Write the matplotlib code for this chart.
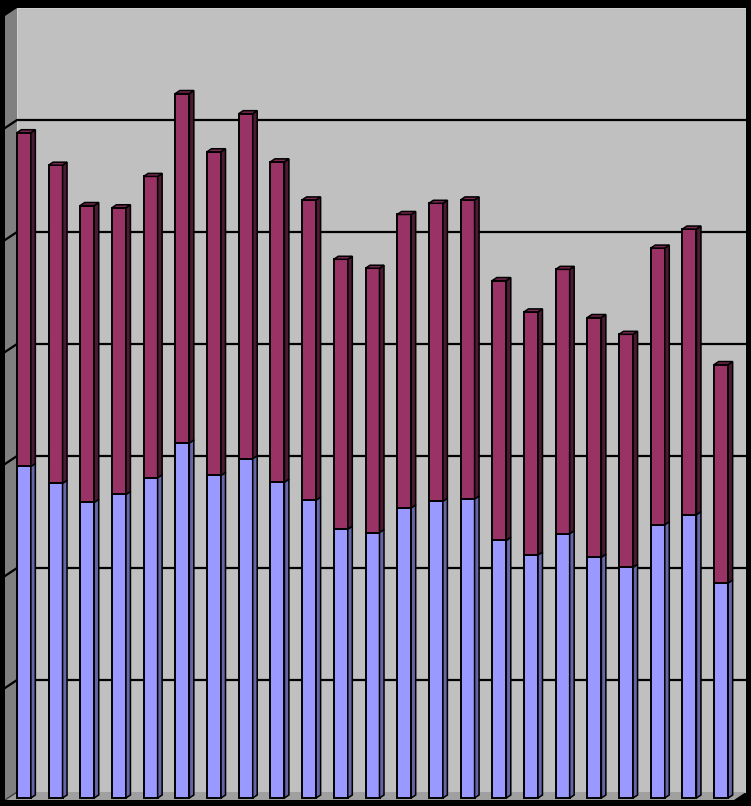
import numpy as np
import matplotlib
matplotlib.use('Agg')
import matplotlib.pyplot as plt
from matplotlib.patches import Polygon, Rectangle

# values (one gridline = 1 unit)
lower = [2.96, 2.81, 2.64, 2.71, 2.86, 3.17, 2.88, 3.03, 2.82, 2.66, 2.40, 2.37,
         2.59, 2.65, 2.67, 2.30, 2.17, 2.36, 2.15, 2.06, 2.44, 2.53, 1.92]
upper = [2.98, 2.84, 2.65, 2.56, 2.69, 3.12, 2.89, 3.08, 2.86, 2.68, 2.41, 2.36,
         2.62, 2.66, 2.67, 2.32, 2.17, 2.36, 2.14, 2.08, 2.47, 2.55, 1.95]
grid_levels = [1, 2, 3, 4, 5, 6]
top = 7

n = len(lower)
W, H = 751, 806
fig = plt.figure(figsize=(W / 100, H / 100), dpi=100, facecolor='black')
# plot region (front-left to back-right) in pixels: x 5..746, y 8..800
ax = fig.add_axes([5 / W, 6 / H, 741 / W, 792 / H])
ax.set_axis_off()

px_x = 729 / n      # pixels per category
px_y = 112.0        # pixels per unit
DX, DY = 12 / px_x, 8 / px_y      # wall depth
BX, BY = 3 / px_x, 2 / px_y       # bar front plane
dx, dy = 4.5 / px_x, 3 / px_y     # bar depth
bw = 14 / px_x
elw = 1.4

ax.set_xlim(-0.5, n - 0.5 + DX)
ax.set_ylim(0, top + DY)

# walls and floor
ax.add_patch(Rectangle((-0.5 + DX, DY), n, top, fc='#C0C0C0', ec='#D0D0D0', lw=0.8, zorder=0))
ax.add_patch(Polygon([(-0.5, 0), (-0.5, top), (-0.5 + DX, top + DY), (-0.5 + DX, DY)],
                     closed=True, fc='#808080', ec='none', zorder=0))
ax.add_patch(Polygon([(-0.5, 0), (n - 0.5, 0), (n - 0.5 + DX, DY), (-0.5 + DX, DY)],
                     closed=True, fc='#A0A0A0', ec='none', zorder=0))
ax.plot([-0.5, -0.5 + DX], [0, DY], color='#404040', lw=1, zorder=1)
for k in grid_levels:
    ax.plot([-0.5, -0.5 + DX, n - 0.5 + DX], [k, k + DY, k + DY],
            color='black', lw=1.6, zorder=1)

x = np.arange(n) + BX
lo = np.array(lower)
up = np.array(upper)

ax.bar(x, lo, width=bw, bottom=BY, color='#9999FF', edgecolor='black', lw=elw, zorder=3)
ax.bar(x, up, width=bw, bottom=BY + lo, color='#993366', edgecolor='black', lw=elw, zorder=3)


def side(c, y0, y1, color):
    xr = c + bw / 2
    ax.add_patch(Polygon([(xr, y0), (xr + dx, y0 + dy), (xr + dx, y1 + dy), (xr, y1)],
                         closed=True, fc=color, ec='black', lw=elw * 0.8, zorder=3))


for c, a, b in zip(x, lo, up):
    side(c, BY, BY + a, '#6565A8')
    side(c, BY + a, BY + a + b, '#4D1A33')
    yt = BY + a + b
    xl, xr = c - bw / 2, c + bw / 2
    ax.add_patch(Polygon([(xl, yt), (xr, yt), (xr + dx, yt + dy), (xl + dx, yt + dy)],
                         closed=True, fc='#7A2952', ec='black', lw=elw * 0.8, zorder=3))

fig.savefig('out.png', dpi=100, facecolor='black')
